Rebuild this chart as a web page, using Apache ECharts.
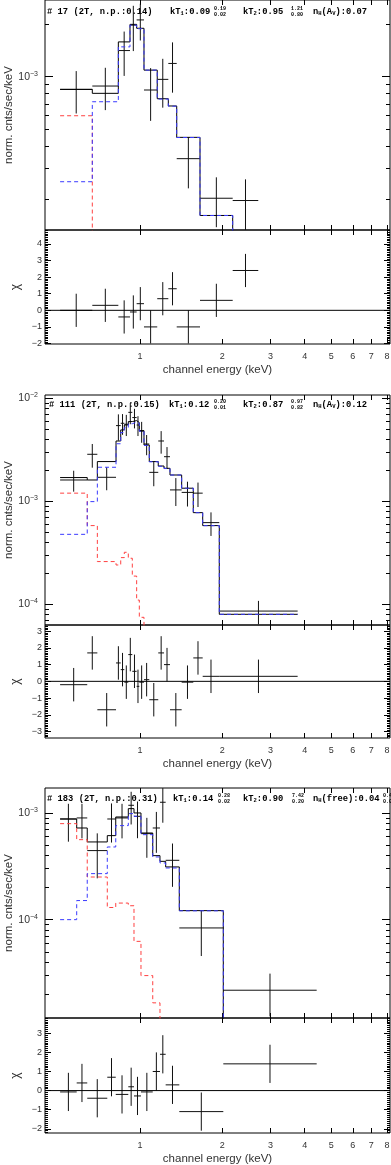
<!DOCTYPE html>
<html>
<head>
<meta charset="utf-8">
<script src="https://cdn.jsdelivr.net/npm/echarts@6/dist/echarts.min.js"></script>
<style>
html, body { margin: 0; padding: 0; background: #fff; }
#chart { width: 391px; height: 1165px; }
</style>
</head>
<body>
<div id="chart"></div>
<script>
// x axis (keV), shared by all panels
var xTicks = [1, 2, 3, 4, 5, 6, 7, 8];
var eRange = [0.45, 8.2];

// panel 1 : # 17
var p1Edges = [0.511, 0.670, 0.834, 0.920, 0.973, 1.035, 1.157, 1.270, 1.363, 1.658, 2.183, 2.707];
var p1Flux = [8.46e-4, 8.84e-4, 1.41e-3, 1.97e-3, 2.11e-3, 8.39e-4, 9.65e-4, 1.19e-3, 3.40e-4, 2.02e-4, 1.96e-4];
var p1Err = [2.3e-4, 2.4e-4, 4.0e-4, 5.7e-4, 5.0e-4, 2.8e-4, 3.0e-4, 3.8e-4, 1.1e-4, 6.4e-5, 6.3e-5];
var p1Total = [8.46e-4, 8.03e-4, 1.58e-3, 1.99e-3, 1.89e-3, 1.09e-3, 7.48e-4, 6.80e-4, 4.50e-4, 1.61e-4, 1.0e-4];
var p1Soft = [5.98e-4, 8.4e-5, 6.0e-5, 2.0e-5, 1.0e-5, 5.0e-6, 2.0e-6, 1.0e-6, 5.0e-7, 1.0e-7, 1.0e-8];
var p1Hard = [2.51e-4, 7.19e-4, 1.48e-3, 1.97e-3, 1.88e-3, 1.09e-3, 7.45e-4, 6.78e-4, 4.49e-4, 1.61e-4, 1.0e-4];
var p1Chi = [0, 0.3, -0.4, -0.1, 0.4, -1.0, 0.7, 1.3, -1.0, 0.6, 2.4];
var p1FluxRange = [1.33e-4, 2.742e-3];
var p1FluxTicks = [1e-3];
var p1ChiRange = [-2.03, 4.84];
var p1ChiTicks = [-2, -1, 0, 1, 2, 3, 4];

// panel 2 : # 111
var p2Edges = [0.511, 0.642, 0.699, 0.818, 0.851, 0.877, 0.907, 0.938, 0.973, 0.995, 1.035, 1.082, 1.167, 1.225, 1.288, 1.421, 1.567, 1.696, 1.950, 3.77];
var p2Flux = [1.61e-3, 2.86e-3, 1.71e-3, 5.43e-3, 5.72e-3, 5.6e-3, 7.3e-3, 6.5e-3, 5.5e-3, 4.8e-3, 3.6e-3, 1.91e-3, 3.85e-3, 2.71e-3, 1.29e-3, 1.22e-3, 1.20e-3, 6.21e-4, 8.6e-5];
var p2Err = [3.7e-4, 7.4e-4, 4.3e-4, 1.55e-3, 1.3e-3, 1.3e-3, 1.7e-3, 1.4e-3, 1.2e-3, 1.1e-3, 8.0e-4, 5.1e-4, 9.5e-4, 6.5e-4, 3.9e-4, 3.3e-4, 3.2e-4, 1.6e-4, 2.2e-5];
var p2Total = [1.70e-3, 1.61e-3, 2.43e-3, 3.85e-3, 4.93e-3, 5.51e-3, 5.94e-3, 6.07e-3, 5.81e-3, 4.85e-3, 3.52e-3, 2.43e-3, 2.20e-3, 2.09e-3, 1.80e-3, 1.34e-3, 7.76e-4, 5.81e-4, 8.0e-5];
var p2Soft = [1.20e-3, 5.81e-4, 2.60e-4, 2.41e-4, 2.84e-4, 3.20e-4, 2.80e-4, 1.88e-4, 1.10e-4, 7.48e-5, 3.0e-5, 1.2e-5, 5.0e-6, 2.0e-6, 1.0e-6, 5.0e-7, 1.0e-7, 5.0e-8, 1.0e-9];
var p2Hard = [4.78e-4, 9.93e-4, 2.14e-3, 3.62e-3, 4.65e-3, 5.19e-3, 5.66e-3, 5.88e-3, 5.70e-3, 4.78e-3, 3.49e-3, 2.42e-3, 2.19e-3, 2.08e-3, 1.80e-3, 1.34e-3, 7.75e-4, 5.80e-4, 8.0e-5];
var p2Chi = [-0.2, 1.7, -1.7, 1.1, 0.7, -0.05, 1.6, 0.6, -0.3, -0.05, 0.1, -1.1, 1.7, 1.0, -1.7, -0.05, 1.4, 0.3, 0.3];
var p2FluxRange = [6.30e-5, 1.076e-2];
var p2FluxTicks = [1e-2, 1e-3, 1e-4];
var p2ChiRange = [-3.39, 3.37];
var p2ChiTicks = [-3, -2, -1, 0, 1, 2, 3];

// panel 3 : # 183
var p3Edges = [0.511, 0.5875, 0.642, 0.760, 0.816, 0.907, 0.9515, 1.009, 1.114, 1.184, 1.242, 1.393, 2.017, 4.425];
var p3Flux = [8.78e-4, 8.98e-4, 4.44e-4, 8.78e-4, 8.98e-4, 1.18e-3, 9.3e-4, 6.40e-4, 7.23e-4, 1.26e-3, 3.6e-4, 8.36e-5, 2.18e-5];
var p3Err = [3.4e-4, 3.2e-4, 2.0e-4, 3.5e-4, 3.2e-4, 4.0e-4, 3.5e-4, 2.6e-4, 3.0e-4, 4.5e-4, 1.57e-4, 3.8e-5, 9.4e-6];
var p3Total = [8.78e-4, 7.23e-4, 5.35e-4, 6.13e-4, 9.17e-4, 1.098e-3, 1.0e-3, 6.49e-4, 3.98e-4, 3.52e-4, 3.12e-4, 1.215e-4, 8.0e-6];
var p3Soft = [7.94e-4, 5.62e-4, 2.51e-4, 1.30e-4, 1.43e-4, 1.35e-4, 6.26e-5, 2.99e-5, 1.66e-5, 5.0e-6, 2.0e-6, 1.0e-6, 1.0e-7];
var p3Hard = [1.0e-4, 1.51e-4, 2.70e-4, 4.80e-4, 7.61e-4, 9.86e-4, 9.3e-4, 6.26e-4, 3.87e-4, 3.40e-4, 3.05e-4, 1.21e-4, 8.0e-6];
var p3Chi = [-0.07, 0.4, -0.4, 0.7, -0.2, 0.2, -0.28, -0.07, 1.0, 1.9, 0.3, -1.1, 1.4];
var p3FluxRange = [1.197e-5, 1.714e-3];
var p3FluxTicks = [1e-3, 1e-4];
var p3ChiRange = [-2.22, 3.8];
var p3ChiTicks = [-2, -1, 0, 1, 2, 3];

// fit annotations
var fitIds = ['# 17 (2T, n.p.:0.14)', '# 111 (2T, n.p.:0.15)', '# 183 (2T, n.p.:0.31)'];
var fitKT1 = [['0.09', '0.19', '0.02'], ['0.12', '0.20', '0.01'], ['0.14', '0.28', '0.02']];
var fitKT2 = [['0.95', '1.21', '0.80'], ['0.87', '0.97', '0.82'], ['0.90', '7.42', '0.20']];
var fitNH = ['n{s|H}(A{s|V}):0.07', 'n{s|H}(A{s|V}):0.12', 'n{s|H}(free):0.04'];
var fitNHErr = [null, null, ['0.48', '0.00']];

var LOG = Math.log10;
var SANS = '"Liberation Sans", Arial, sans-serif';
var MONO = '"Liberation Mono", "DejaVu Sans Mono", monospace';
var TXT = '#333';

var panels = [
	{ edges: p1Edges, flux: p1Flux, err: p1Err, total: p1Total, soft: p1Soft, hard: p1Hard, chi: p1Chi,
		fRange: p1FluxRange, fTicks: p1FluxTicks, cRange: p1ChiRange, cTicks: p1ChiTicks,
		top: 0, resH: 114, annY: 12, annX: [47, 170, 214, 243, 291, 313, 383] },
	{ edges: p2Edges, flux: p2Flux, err: p2Err, total: p2Total, soft: p2Soft, hard: p2Hard, chi: p2Chi,
		fRange: p2FluxRange, fTicks: p2FluxTicks, cRange: p2ChiRange, cTicks: p2ChiTicks,
		top: 395, resH: 113, annY: 405, annX: [49, 169, 214, 243, 291, 313, 383] },
	{ edges: p3Edges, flux: p3Flux, err: p3Err, total: p3Total, soft: p3Soft, hard: p3Hard, chi: p3Chi,
		fRange: p3FluxRange, fTicks: p3FluxTicks, cRange: p3ChiRange, cTicks: p3ChiTicks,
		top: 788, resH: 115, annY: 799, annX: [47, 173, 218, 243, 292, 313, 383] }
];

var grids = [], xAxes = [], yAxes = [], series = [], graphics = [];

function stepData(edges, vals) {
	var out = [];
	for (var i = 0; i < edges.length; i++) {
		out.push([LOG(edges[i]), LOG(vals[Math.min(i, vals.length - 1)])]);
	}
	return out;
}

function crossData(edges, vals, lo, hi) {
	return vals.map(function (v, i) {
		var a = LOG(edges[i]), b = LOG(edges[i + 1]);
		return [a, b, (a + b) / 2, v, hi[i], lo[i]];
	});
}

function renderCross(params, api) {
	var a = api.coord([api.value(0), api.value(3)]);
	var b = api.coord([api.value(1), api.value(3)]);
	var c = api.coord([api.value(2), api.value(4)]);
	var d = api.coord([api.value(2), api.value(5)]);
	var st = { stroke: '#111', lineWidth: 1 };
	return {
		type: 'group',
		children: [
			{ type: 'line', shape: { x1: a[0], y1: a[1], x2: b[0], y2: b[1] }, style: st },
			{ type: 'line', shape: { x1: c[0], y1: c[1], x2: d[0], y2: d[1] }, style: st }
		]
	};
}

function addX(g, labels) {
	var tv = xTicks.map(LOG);
	[ 'bottom', 'top' ].forEach(function (pos) {
		var ax = {
			gridIndex: g, type: 'value', position: pos, min: LOG(eRange[0]), max: LOG(eRange[1]),
			axisLine: { show: false, onZero: false }, splitLine: { show: false },
			axisTick: { inside: true, length: 5, customValues: tv, lineStyle: { color: '#000' } },
			axisLabel: { show: false }
		};
		if (labels && pos === 'bottom') {
			ax.axisLabel = {
				show: true, customValues: tv, margin: 8, fontSize: 9, fontFamily: SANS, color: TXT,
				formatter: function (v) { return String(Math.round(Math.pow(10, v))); }
			};
			ax.name = 'channel energy (keV)';
			ax.nameLocation = 'middle';
			ax.nameGap = 20;
			ax.nameMoveOverlap = false;
			ax.nameTextStyle = { fontSize: 11.5, fontFamily: SANS, color: TXT };
		}
		xAxes.push(ax);
	});
	return xAxes.length - 2;
}

function addY(g, min, max, majors, minors, majLen, minLen, label, name, nameGap, nameSize) {
	var first = yAxes.length;
	[ 'left', 'right' ].forEach(function (pos) {
		[ majors, minors ].forEach(function (vals, k) {
			var ax = {
				gridIndex: g, type: 'value', position: pos, min: min, max: max,
				axisLine: { show: false, onZero: false }, splitLine: { show: false },
				axisTick: { inside: true, length: k === 0 ? majLen : minLen, customValues: vals, lineStyle: { color: '#000' } },
				axisLabel: { show: false }
			};
			if (pos === 'left' && k === 0) {
				ax.axisLabel = Object.assign({ show: true, customValues: vals, fontFamily: SANS, color: TXT }, label);
				ax.name = name;
				ax.nameLocation = 'middle';
				ax.nameRotate = 90;
				ax.nameGap = nameGap;
				ax.nameMoveOverlap = false;
				ax.nameTextStyle = { fontSize: nameSize, fontFamily: SANS, color: TXT };
			}
			yAxes.push(ax);
		});
	});
	return first;
}

function addGrid(top, height) {
	grids.push({ left: 45, top: top, width: 345, height: height, show: true, borderColor: '#000', borderWidth: 1,
		containLabel: false, outerBoundsMode: 'none' });
	return grids.length - 1;
}

panels.forEach(function (p, i) {
	// spectrum
	var gs = addGrid(p.top, 230);
	var fmin = LOG(p.fRange[0]), fmax = LOG(p.fRange[1]);
	var majors = p.fTicks.map(LOG);
	var minors = [];
	for (var d = Math.floor(fmin); d <= Math.ceil(fmax); d++) {
		for (var k = 2; k <= 9; k++) {
			var v = d + LOG(k);
			if (v > fmin && v < fmax) minors.push(v);
		}
	}
	var xs = addX(gs, false);
	var ys = addY(gs, fmin, fmax, majors, minors, 8, 4, {
		margin: 7, fontSize: 10.5, lineHeight: 13,
		formatter: function (v) { return '10{s|\u2212' + Math.round(-v) + '}'; },
		rich: { s: { fontSize: 7, lineHeight: 7, padding: [0, 0, 6, 0], fontFamily: SANS, color: TXT } }
	}, 'norm. cnts/sec/keV', 30, 11.5);

	var line = function (vals, color, dash) {
		return {
			type: 'line', xAxisIndex: xs, yAxisIndex: ys, data: stepData(p.edges, vals), step: 'end',
			symbol: 'none', silent: true, clip: true,
			lineStyle: { color: color, width: 1, type: dash ? [4, 3] : 'solid' }
		};
	};
	series.push(line(p.total, '#000', false));
	series.push(line(p.soft, '#ff4040', true));
	series.push(line(p.hard, '#3a3aff', true));
	series.push({
		type: 'custom', xAxisIndex: xs, yAxisIndex: ys, clip: true, silent: true,
		encode: { x: [0, 1, 2], y: [3, 4, 5] },
		data: crossData(p.edges, p.flux.map(LOG),
			p.flux.map(function (f, j) { return LOG(Math.max(f - p.err[j], 1e-12)); }),
			p.flux.map(function (f, j) { return LOG(f + p.err[j]); })),
		renderItem: renderCross
	});

	// residuals
	var gr = addGrid(p.top + 230, p.resH);
	var cmin = p.cRange[0], cmax = p.cRange[1];
	var cMinor = [];
	for (var t = Math.ceil(cmin * 10); t <= Math.floor(cmax * 10); t++) cMinor.push(t / 10);
	var xr = addX(gr, true);
	var yr = addY(gr, cmin, cmax, p.cTicks, cMinor, 6, 3, {
		margin: 3, fontSize: 9,
		formatter: function (v) { return v < 0 ? '\u2212' + Math.abs(v) : String(v); }
	}, '\u03c7', 23, 12);
	series.push({
		type: 'line', xAxisIndex: xr, yAxisIndex: yr, symbol: 'none', silent: true,
		data: [[LOG(eRange[0]), 0], [LOG(eRange[1]), 0]],
		lineStyle: { color: '#000', width: 1 }
	});
	series.push({
		type: 'custom', xAxisIndex: xr, yAxisIndex: yr, clip: true, silent: true,
		encode: { x: [0, 1, 2], y: [3, 4, 5] },
		data: crossData(p.edges, p.chi,
			p.chi.map(function (c) { return c - 1; }),
			p.chi.map(function (c) { return c + 1; })),
		renderItem: renderCross
	});

	// fit annotation
	var y0 = p.annY, ax = p.annX;
	var main = { fontSize: 8.8, fontFamily: MONO, fontWeight: 'bold', fill: '#000', verticalAlign: 'middle', align: 'left', lineHeight: 10,
		rich: { s: { fontSize: 5.5, fontFamily: MONO, fontWeight: 'bold', lineHeight: 6, padding: [4, 0, 0, 0] } } };
	var small = function (x, y, txt) {
		graphics.push({ type: 'text', x: x, y: y, silent: true,
			style: { text: txt, fontSize: 5, fontFamily: MONO, fontWeight: 'bold', fill: '#000', verticalAlign: 'middle', align: 'left' } });
	};
	var txt = function (x, s) {
		graphics.push({ type: 'text', x: x, y: y0, silent: true, style: Object.assign({ text: s }, main) });
	};
	txt(ax[0], fitIds[i]);
	txt(ax[1], 'kT{s|1}:' + fitKT1[i][0]);
	small(ax[2], y0 - 3, fitKT1[i][1]);
	small(ax[2], y0 + 3, fitKT1[i][2]);
	txt(ax[3], 'kT{s|2}:' + fitKT2[i][0]);
	small(ax[4], y0 - 3, fitKT2[i][1]);
	small(ax[4], y0 + 3, fitKT2[i][2]);
	txt(ax[5], fitNH[i]);
	if (fitNHErr[i]) {
		small(ax[6], y0 - 3, fitNHErr[i][0]);
		small(ax[6], y0 + 3, fitNHErr[i][1]);
	}
});

var chart = echarts.init(document.getElementById('chart'), null, { renderer: 'canvas' });
chart.setOption({
	animation: false,
	backgroundColor: '#fff',
	grid: grids,
	xAxis: xAxes,
	yAxis: yAxes,
	series: series,
	graphic: graphics
});
</script>
</body>
</html>
